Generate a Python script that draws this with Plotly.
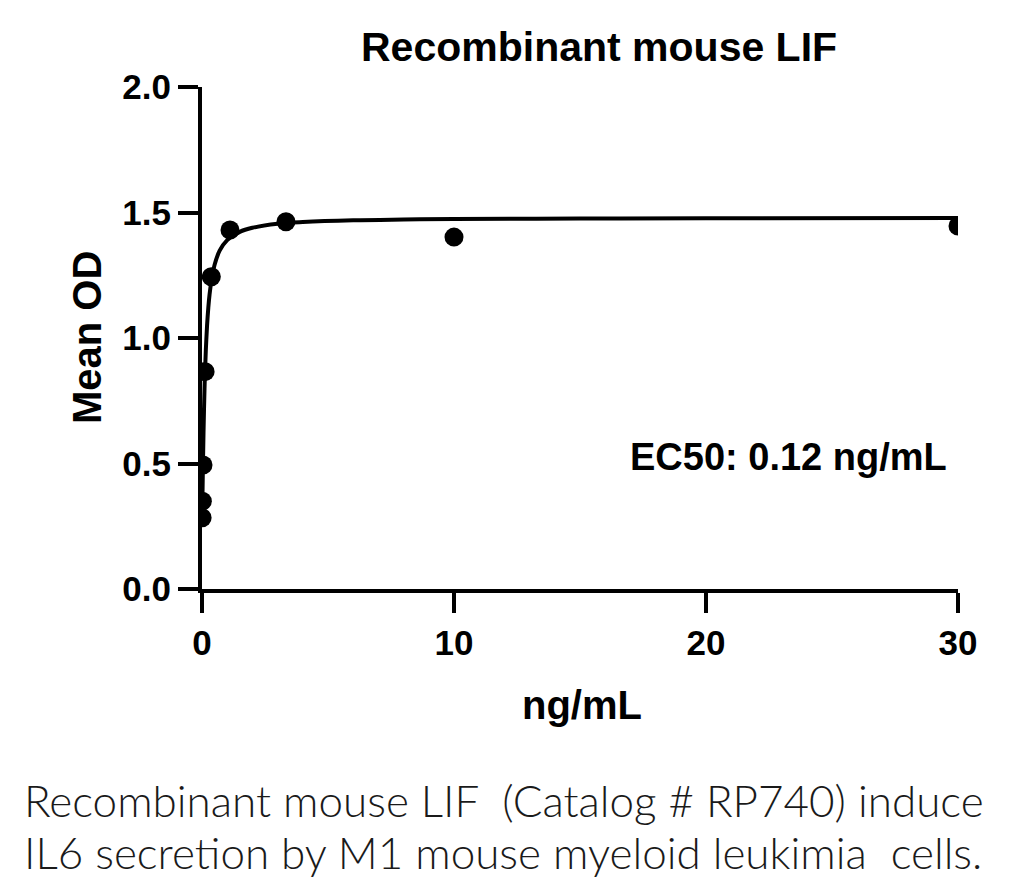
import plotly.graph_objects as go

# Measured points (ng/mL vs Mean OD)
conc = [30, 10, 3.333, 1.111, 0.370, 0.123, 0.041, 0.0137, 0.0046]
mean_od = [1.446, 1.402, 1.463, 1.430, 1.244, 0.866, 0.494, 0.350, 0.284]

# Fitted curve
fit_x = [0.003, 0.01, 0.02, 0.04, 0.06, 0.08, 0.1, 0.12, 0.15, 0.2, 0.25, 0.3,
         0.4, 0.5, 0.7, 1.0, 1.5, 2, 3, 4, 6, 8, 10, 15, 20, 30]
fit_y = [0.265, 0.309, 0.378, 0.510, 0.623, 0.718, 0.798, 0.865, 0.947, 1.048,
         1.120, 1.173, 1.245, 1.292, 1.348, 1.390, 1.423, 1.439, 1.455, 1.462,
         1.469, 1.472, 1.474, 1.476, 1.477, 1.478]

x_ticks = [0, 10, 20, 30]
y_ticks = [0.0, 0.5, 1.0, 1.5, 2.0]

title_text = "Recombinant mouse LIF"
x_title = "ng/mL"
y_title = "Mean OD"
ec50_text = "EC50: 0.12 ng/mL"
caption_1 = "Recombinant mouse LIF&nbsp;&nbsp;(Catalog # RP740) induce"
caption_2 = "IL6 secretion by M1 mouse myeloid leukimia&nbsp;&nbsp;cells."

BOLD = "Liberation Sans, Arial, sans-serif"

fig = go.Figure()
fig.add_trace(go.Scatter(x=fit_x, y=fit_y, mode="lines",
                         line=dict(color="black", width=4, shape="spline"),
                         showlegend=False, hoverinfo="skip"))
fig.add_trace(go.Scatter(x=conc, y=mean_od, mode="markers",
                         marker=dict(color="black", size=19),
                         showlegend=False))

axis_common = dict(showline=True, linecolor="black", linewidth=4,
                   ticks="outside", ticklen=20, tickwidth=4, tickcolor="black",
                   showgrid=False, zeroline=False,
                   tickfont=dict(family=BOLD, size=35, color="black", weight="bold"))

fig.update_xaxes(range=[0, 30], tickvals=x_ticks, ticktext=[str(v) for v in x_ticks],
                 **axis_common)
fig.update_yaxes(range=[0, 2], tickvals=y_ticks, tickformat=".1f", **axis_common)

annotations = [
    dict(text=title_text, xref="paper", yref="paper", x=0.525, y=1.08,
         xanchor="center", yanchor="middle", showarrow=False,
         font=dict(family=BOLD, size=41, color="black", weight="bold")),
    dict(text=x_title, xref="paper", yref="paper", x=0.503, y=-0.232,
         xanchor="center", yanchor="middle", showarrow=False,
         font=dict(family=BOLD, size=40, color="black", weight="bold")),
    dict(text=y_title, xref="paper", yref="paper", x=-0.152, y=0.5,
         xanchor="center", yanchor="middle", showarrow=False, textangle=-90,
         font=dict(family=BOLD, size=40, color="black", weight="bold")),
    dict(text=ec50_text, xref="x", yref="y", x=16.9, y=0.526,
         xanchor="left", yanchor="middle", showarrow=False,
         font=dict(family=BOLD, size=38, color="black", weight="bold")),
    dict(text=caption_1, xref="paper", yref="paper", x=-0.238, y=-0.42,
         xanchor="left", yanchor="middle", showarrow=False,
         font=dict(family="Lato, DejaVu Sans, sans-serif", size=44, color="#1a1a1a", weight=300)),
    dict(text=caption_2, xref="paper", yref="paper", x=-0.238, y=-0.524,
         xanchor="left", yanchor="middle", showarrow=False,
         font=dict(family="Lato, DejaVu Sans, sans-serif", size=44, color="#1a1a1a", weight=300)),
]

fig.update_layout(width=1024, height=891, margin=dict(l=202, r=66, t=87, b=302),
                  paper_bgcolor="white", plot_bgcolor="white",
                  annotations=annotations)

fig.write_html("out.html")
